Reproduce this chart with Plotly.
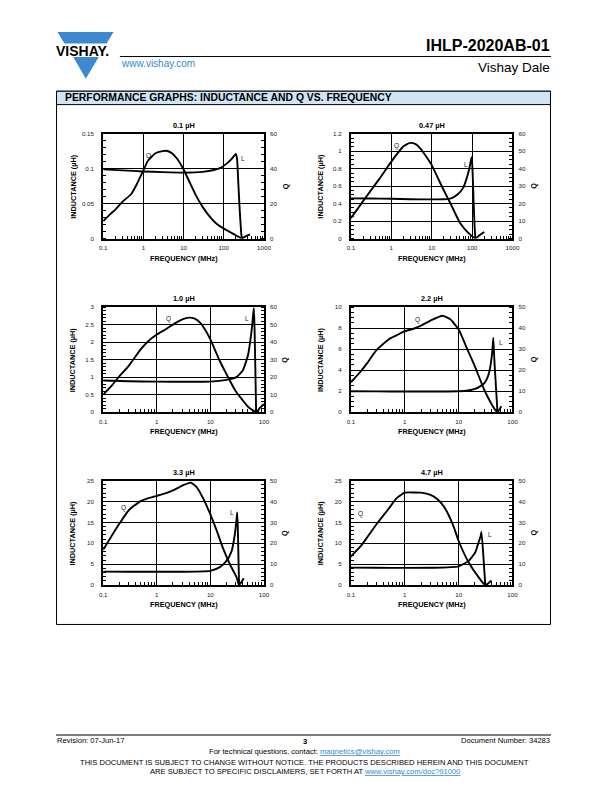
import math
import plotly.graph_objects as go

W, H = 612, 792
def px(x): return x / W
def py(y): return 1 - y / H

FONT = "Liberation Sans, Arial, sans-serif"

# ---------------- data ----------------
titles = ["0.1 µH", "0.47 µH", "1.0 µH", "2.2 µH", "3.3 µH", "4.7 µH"]

c1_L_freq = [0.1, 0.3, 1, 3, 10, 30, 57, 83, 120, 158, 200, 215, 230, 250, 270, 280]
c1_L_val = [0.099, 0.0975, 0.096, 0.095, 0.0943, 0.0953, 0.098, 0.101, 0.1075, 0.114, 0.121, 0.113, 0.08, 0.04, 0.01, 0.0]
c1_Q_freq = [0.1, 0.15, 0.2, 0.3, 0.5, 0.7, 1, 1.3, 2, 3, 3.7, 5, 7, 10, 15, 20, 30, 50, 70, 100, 150, 200, 250, 275, 350, 450]
c1_Q_val = [10, 14, 16.6, 21, 25.5, 31.5, 39, 44.5, 48.8, 50, 50.2, 49, 45.5, 39.5, 31, 25, 18, 11.3, 8, 5.7, 3.5, 1.9, 0.6, 0, 1.3, 2.4]

c2_L_freq = [0.1, 0.3, 1, 3, 10, 20, 30, 45, 60, 70, 80, 88, 94, 98, 103, 109, 115, 120]
c2_L_val = [0.46, 0.458, 0.455, 0.45, 0.448, 0.45, 0.46, 0.51, 0.58, 0.66, 0.75, 0.83, 0.9, 0.93, 0.75, 0.42, 0.15, 0.0]
c2_Q_freq = [0.1, 0.2, 0.3, 0.5, 1, 1.5, 2, 2.9, 4, 5, 7, 10, 15, 20, 30, 50, 70, 90, 110, 120, 150, 200]
c2_Q_val = [11.7, 21.4, 27, 34, 44, 49.4, 52.8, 54.7, 54, 52, 47.5, 42, 33.5, 27.5, 19.5, 9, 4.7, 2.3, 0.6, 0, 1.8, 3.8]

c3_L_freq = [0.1, 0.3, 1, 3, 10, 20, 30, 40, 50, 55, 60, 63, 65, 67, 69, 71.5]
c3_L_val = [0.9, 0.88, 0.87, 0.865, 0.87, 0.92, 0.99, 1.18, 1.6, 1.98, 2.45, 2.8, 2.97, 2.3, 1.3, 0.0]
c3_Q_freq = [0.1, 0.15, 0.2, 0.3, 0.5, 0.7, 1, 1.5, 2, 3, 4, 5, 6.5, 8, 10, 15, 20, 30, 40, 50, 60, 72, 85, 100]
c3_Q_val = [10, 15.7, 20.4, 26.4, 35.8, 40.6, 44.3, 47.5, 50, 53, 54, 53.5, 51, 47, 41.5, 29.2, 21.7, 11.7, 6.8, 3.2, 1.3, 0, 2.5, 4.7]

c4_L_freq = [0.1, 0.3, 1, 3, 10, 15, 20, 25, 30, 35, 38, 42, 44, 46, 48.5, 52.6]
c4_L_val = [1.98, 1.97, 1.96, 1.96, 1.98, 2.05, 2.2, 2.45, 2.75, 3.4, 4.1, 5.7, 7.07, 5.0, 3.0, 0.0]
c4_Q_freq = [0.1, 0.15, 0.2, 0.3, 0.5, 0.7, 1, 1.5, 2, 3, 5, 7, 10, 15, 20, 30, 40, 47, 52.6, 62]
c4_Q_val = [14.2, 19.2, 23.3, 29.6, 34.6, 36.5, 38.5, 39.8, 41.2, 43.6, 45.9, 44.2, 39.3, 29, 21.8, 10.5, 4.2, 1.3, 0, 2.8]

c5_L_freq = [0.1, 0.3, 1, 3, 10, 15, 20, 25, 28.6, 30.8, 31.7, 32.5, 33.5, 34.4]
c5_L_val = [3.23, 3.2, 3.18, 3.2, 3.4, 4.3, 5.8, 8.2, 12.1, 15.7, 17.4, 14, 6, 0.0]
c5_Q_freq = [0.1, 0.15, 0.2, 0.3, 0.5, 0.7, 1, 1.5, 2, 3, 4.3, 5.5, 7.5, 10, 13.2, 17.5, 23, 30.8, 34.4, 42]
c5_Q_val = [16.9, 24.3, 29.3, 35.8, 40.2, 41.6, 42.7, 44, 45.3, 47.6, 49, 47, 41, 33.8, 25.9, 17.2, 10.1, 3.8, 0, 3.3]

c6_L_freq = [0.1, 0.3, 1, 3, 10, 15.3, 20.3, 23.4, 25.5, 26.5, 28.8, 30, 31.3]
c6_L_val = [4.18, 4.15, 4.12, 4.15, 4.5, 5.8, 7.8, 10.2, 11.6, 12.7, 6.9, 3.4, 0.0]
c6_Q_freq = [0.1, 0.15, 0.2, 0.3, 0.5, 0.7, 1, 1.5, 2, 3, 4, 5, 6, 8, 10, 15.3, 23.4, 31.3, 40.8]
c6_Q_val = [13.7, 18.5, 22.8, 29.2, 36.5, 41.5, 44.2, 44.3, 44.2, 43.2, 41.2, 38.5, 35.3, 28.2, 21.1, 10.9, 3.8, 0, 2.2]

L_freqs = [c1_L_freq, c2_L_freq, c3_L_freq, c4_L_freq, c5_L_freq, c6_L_freq]
L_vals = [c1_L_val, c2_L_val, c3_L_val, c4_L_val, c5_L_val, c6_L_val]
Q_freqs = [c1_Q_freq, c2_Q_freq, c3_Q_freq, c4_Q_freq, c5_Q_freq, c6_Q_freq]
Q_vals = [c1_Q_val, c2_Q_val, c3_Q_val, c4_Q_val, c5_Q_val, c6_Q_val]

# tick labels
x_ticks_1000 = ["0.1", "1", "10", "100", "1000"]
x_ticks_100 = ["0.1", "1", "10", "100"]
L_ticks = [
    ["0", "0.05", "0.1", "0.15"],
    ["0", "0.2", "0.4", "0.6", "0.8", "1", "1.2"],
    ["0", "0.5", "1", "1.5", "2", "2.5", "3"],
    ["0", "2", "4", "6", "8", "10"],
    ["0", "5", "10", "15", "20", "25"],
    ["0", "5", "10", "15", "20", "25"],
]
Q_ticks = [
    ["0", "20", "40", "60"],
    ["0", "10", "20", "30", "40", "50", "60"],
    ["0", "10", "20", "30", "40", "50", "60"],
    ["0", "10", "20", "30", "40", "50"],
    ["0", "10", "20", "30", "40", "50"],
    ["0", "10", "20", "30", "40", "50"],
]
x_ticktexts = [x_ticks_1000, x_ticks_1000, x_ticks_100, x_ticks_100, x_ticks_100, x_ticks_100]
minor_div = [5, 4, 5, 4, 5, 5]

# label (text, freq, L-value) for "Q"/"L" markers
curve_labels = [
    [("Q", 1.38, 0.118), ("L", 300, 0.115)],
    [("Q", 1.34, 1.057), ("L", 69, 0.85)],
    [("Q", 1.66, 2.67), ("L", 48, 2.67)],
    [("Q", 1.71, 8.74), ("L", 62, 6.67)],
    [("Q", 0.242, 18.45), ("L", 24.9, 17.4)],
    [("Q", 0.148, 16.9), ("L", 39, 12.1)],
]

# ---------------- layout geometry ----------------
cols = [(101, 264.7), (353.3, 517.8)]
rows = [(130.8, 236.7), (305.8, 411.7), (480.8, 586.3)]

fig = go.Figure()
annotations = []
layout = {}

def num(s):
    return float(s)

for i in range(6):
    r, c = divmod(i, 2)
    x0, x1 = cols[c]
    y0, y1 = rows[r]
    xn = f"x{i+1}" if i else "x"
    yl_n = f"y{2*i+1}" if i else "y"
    yr_n = f"y{2*i+2}"
    xkey = f"xaxis{i+1}" if i else "xaxis"
    ylkey = f"yaxis{2*i+1}" if i else "yaxis"
    yrkey = f"yaxis{2*i+2}"

    xt = x_ticktexts[i]
    xvals = [num(t) for t in xt]
    lo, hi = math.log10(xvals[0]), math.log10(xvals[-1])
    minor_x = []
    for d in range(int(round(lo)), int(round(hi))):
        for m in range(2, 10):
            minor_x.append(m * 10 ** d)

    lv = [num(t) for t in L_ticks[i]]
    qv = [num(t) for t in Q_ticks[i]]
    lstep = lv[1] - lv[0]
    qstep = qv[1] - qv[0]

    fig.add_trace(go.Scatter(x=L_freqs[i], y=L_vals[i], xaxis=xn, yaxis=yl_n, mode="lines",
                             line=dict(color="black", width=1.9, shape="spline", smoothing=0.5),
                             hoverinfo="skip"))
    fig.add_trace(go.Scatter(x=Q_freqs[i], y=Q_vals[i], xaxis=xn, yaxis=yr_n, mode="lines",
                             line=dict(color="black", width=1.9, shape="spline", smoothing=0.5),
                             hoverinfo="skip"))

    tickfont = dict(family=FONT, size=6.2, color="#222")
    layout[xkey] = dict(
        type="log", range=[lo, hi], domain=[px(x0), px(x1)], anchor=yl_n,
        showline=True, linecolor="black", linewidth=2, mirror=True,
        showgrid=True, gridcolor="black", gridwidth=1, zeroline=False,
        tickmode="array", tickvals=xvals, ticktext=xt, ticks="", tickfont=tickfont,
        ticklabelstandoff=2,
        minor=dict(ticks="inside", ticklen=3, tickwidth=1, tickcolor="black",
                   tickmode="array", tickvals=minor_x, showgrid=False),
    )
    layout[ylkey] = dict(
        range=[lv[0], lv[-1]], domain=[py(y1), py(y0)], anchor=xn,
        showline=True, linecolor="black", linewidth=2, mirror=True,
        showgrid=True, gridcolor="black", gridwidth=1, zeroline=False,
        tickmode="array", tickvals=lv, ticktext=L_ticks[i], ticks="", tickfont=tickfont,
        ticklabelstandoff=6,
        minor=dict(ticks="inside", ticklen=3, tickwidth=1, tickcolor="black",
                   dtick=lstep / minor_div[i], tick0=0, showgrid=False),
    )
    layout[yrkey] = dict(
        range=[qv[0], qv[-1]], overlaying=yl_n, side="right", anchor=xn,
        showline=False, showgrid=False, zeroline=False,
        tickmode="array", tickvals=qv, ticktext=Q_ticks[i], ticks="", tickfont=tickfont,
        ticklabelstandoff=5,
        minor=dict(ticks="inside", ticklen=3, tickwidth=1, tickcolor="black",
                   dtick=qstep / minor_div[i], tick0=0, showgrid=False),
    )

    cx = (x0 + x1) / 2
    cy = (y0 + y1) / 2
    bold = dict(family=FONT, size=7.3, color="black")
    annotations.append(dict(text=f"<b>{titles[i]}</b>", x=px(cx), y=py(y0 - 8.5), xref="paper", yref="paper",
                            showarrow=False, font=bold, xanchor="center", yanchor="middle", borderpad=0))
    annotations.append(dict(text="<b>FREQUENCY (MHz)</b>", x=px(cx), y=py(y1 + 20), xref="paper", yref="paper",
                            showarrow=False, font=bold, xanchor="center", yanchor="middle", borderpad=0))
    annotations.append(dict(text="<b>INDUCTANCE (µH)</b>", x=px(x0 - 31), y=py(cy), xref="paper", yref="paper",
                            showarrow=False, font=bold, xanchor="center", yanchor="middle", textangle=-90))
    annotations.append(dict(text="<b>Q</b>", x=px(x1 + 21.5), y=py(cy), xref="paper", yref="paper",
                            showarrow=False, font=bold, xanchor="center", yanchor="middle", textangle=-90))
    for (t, f, v) in curve_labels[i]:
        annotations.append(dict(text=t, x=math.log10(f), y=v, xref=xn, yref=yl_n, showarrow=False,
                                font=dict(family=FONT, size=6.5, color="#222"),
                                xanchor="center", yanchor="middle"))

# ---------------- page decorations ----------------
BLUE = "#3d88d0"
LINK = "#2e8bd0"

def pth(points):
    return "M " + " L ".join(f"{px(a)},{py(b)}" for a, b in points) + " Z"

shapes = [
    # logo
    dict(type="path", xref="paper", yref="paper", path=pth([(54.5, 28.3), (111.5, 28.3), (104.5, 39.8), (61.5, 39.8)]),
         fillcolor=BLUE, line=dict(width=0)),
    dict(type="path", xref="paper", yref="paper", path=pth([(70.5, 53.5), (96.5, 53.5), (83.3, 75.5)]),
         fillcolor=BLUE, line=dict(width=0)),
    # header rule
    dict(type="line", xref="paper", yref="paper", x0=px(118), x1=px(557), y0=py(53), y1=py(53),
         line=dict(color="black", width=1)),
    # section frame
    dict(type="rect", xref="paper", yref="paper", x0=px(53.5), x1=px(556.5), y0=py(626), y1=py(88),
         line=dict(color="black", width=1), fillcolor="rgba(0,0,0,0)", layer="below"),
    dict(type="rect", xref="paper", yref="paper", x0=px(53.5), x1=px(556.5), y0=py(101.5), y1=py(88),
         line=dict(color="black", width=1), fillcolor="#cfe5f3", layer="below"),
    # footer rule
    dict(type="line", xref="paper", yref="paper", x0=px(53), x1=px(557), y0=py(737.5), y1=py(737.5),
         line=dict(color="black", width=1.2)),
]

def txt(text, x, y, size, xanchor="left", color="black", bold=False):
    if bold:
        text = f"<b>{text}</b>"
    return dict(text=text, x=px(x), y=py(y), xref="paper", yref="paper", showarrow=False,
                font=dict(family=FONT, size=size, color=color), xanchor=xanchor, yanchor="middle",
                borderpad=0)

annotations += [
    txt("VISHAY.", 80, 47.3, 14, "center", bold=True),
    txt("IHLP-2020AB-01", 557, 41.5, 16, "right", bold=True),
    txt("www.vishay.com", 118, 60, 10, "left", color=LINK),
    txt("Vishay Dale", 557, 64, 13.5, "right"),
    txt("PERFORMANCE GRAPHS: INDUCTANCE AND Q VS. FREQUENCY", 61, 94.8, 10.4, "left", bold=True),
    txt("Revision: 07-Jun-17", 53, 743, 7.6, "left"),
    txt("3", 306, 744, 7.6, "center", bold=True),
    txt("Document Number: 34283", 557, 743, 7.6, "right"),
    txt(f'For technical questions, contact: <span style="color:{LINK};text-decoration:underline">magnetics@vishay.com</span>',
        306, 754, 7.6, "center"),
    txt("THIS DOCUMENT IS SUBJECT TO CHANGE WITHOUT NOTICE. THE PRODUCTS DESCRIBED HEREIN AND THIS DOCUMENT",
        306, 765.5, 7.6, "center"),
    txt(f'ARE SUBJECT TO SPECIFIC DISCLAIMERS, SET FORTH AT <span style="color:{LINK};text-decoration:underline">www.vishay.com/doc?91000</span>',
        306, 774, 7.6, "center"),
]

fig.update_layout(
    width=W, height=H, autosize=False,
    margin=dict(l=0, r=0, t=0, b=0, pad=0),
    paper_bgcolor="white", plot_bgcolor="rgba(0,0,0,0)",
    showlegend=False, font=dict(family=FONT, color="black"),
    shapes=shapes, annotations=annotations,
    **layout,
)

fig.write_html("out.html")
